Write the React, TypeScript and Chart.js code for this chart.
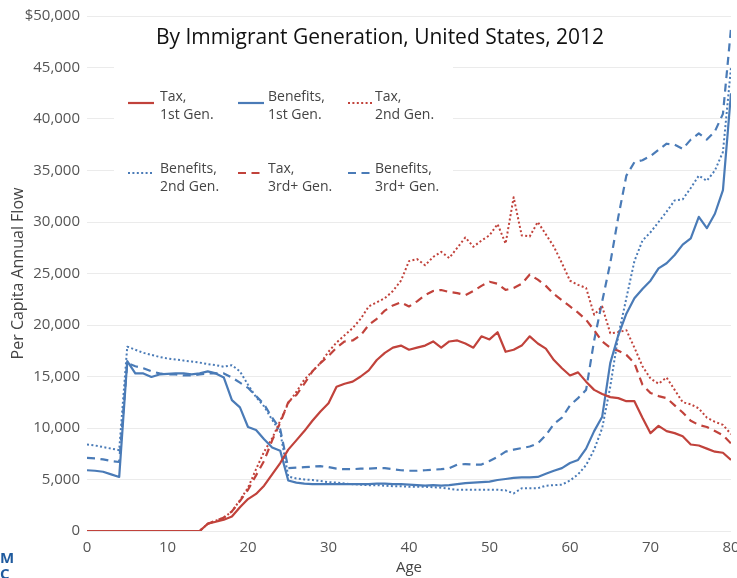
import React, { useEffect, useRef } from "react";
import { Chart, registerables } from "chart.js";

Chart.register(...registerables);

const ages = [
  0, 1, 2, 3, 4, 5, 6, 7, 8, 9, 10, 11, 12, 13, 14, 15, 16, 17, 18, 19, 20,
  21, 22, 23, 24, 25, 26, 27, 28, 29, 30, 31, 32, 33, 34, 35, 36, 37, 38, 39, 40,
  41, 42, 43, 44, 45, 46, 47, 48, 49, 50, 51, 52, 53, 54, 55, 56, 57, 58, 59, 60,
  61, 62, 63, 64, 65, 66, 67, 68, 69, 70, 71, 72, 73, 74, 75, 76, 77, 78, 79, 80,
];

const tax1st = [
  0, 0, 0, 0, 0, 0, 0, 0, 0, 0, 0, 0, 0, 0, 0, 700, 900, 1100, 1400, 2300, 3100,
  3600, 4400, 5500, 6600, 7900, 8800, 9700, 10700, 11600, 12400,
  14000, 14300, 14500, 15000, 15600, 16600, 17300, 17800, 18000, 17600,
  17800, 18000, 18400, 17800, 18400, 18500, 18200, 17800, 18900, 18600,
  19300, 17400, 17600, 18000, 18900, 18200, 17700, 16600, 15800, 15100,
  15400, 14500, 13700, 13300, 13000, 12900, 12600, 12600, 11000, 9500,
  10200, 9700, 9500, 9200, 8400, 8300, 8000, 7700, 7600, 6900,
];

const benefits1st = [
  5900, 5850, 5750, 5500, 5250, 16500, 15300, 15300, 14950, 15200, 15250,
  15300, 15300, 15200, 15300, 15500, 15300, 14900, 12700, 12000, 10100,
  9800, 8900, 8100, 7800, 4900, 4700, 4600, 4550, 4550, 4550,
  4550, 4550, 4550, 4550, 4550, 4600, 4600, 4550, 4550, 4500,
  4450, 4400, 4450, 4400, 4450, 4550, 4650, 4700, 4750, 4800,
  4950, 5050, 5150, 5200, 5200, 5250, 5550, 5850, 6100, 6600,
  6900, 8000, 9700, 11100, 16300, 19000, 21100, 22600, 23500, 24300,
  25500, 26000, 26800, 27800, 28400, 30500, 29400, 30800, 33100, 42500,
];

const tax2nd = [
  0, 0, 0, 0, 0, 0, 0, 0, 0, 0, 0, 0, 0, 0, 0, 700, 1000, 1300, 1900, 3000, 4200,
  6000, 7700, 9000, 10700, 12400, 13500, 14700, 15500, 16300, 17400,
  18300, 19000, 19700, 20600, 21800, 22200, 22600, 23300, 24300, 26200,
  26400, 25800, 26600, 27100, 26500, 27500, 28500, 27600, 28200, 28700,
  29800, 27900, 32400, 28700, 28600, 30000, 28800, 27600, 26000, 24300,
  23900, 23600, 21000, 21800, 19200, 19300, 19500, 17800, 16000, 14800,
  14300, 14900, 13700, 12500, 12300, 11900, 11000, 10600, 10300, 9400,
];

const benefits2nd = [
  8400, 8300, 8150, 8000, 7850, 17900, 17600, 17300, 17100, 16900, 16750,
  16650, 16550, 16450, 16350, 16200, 16100, 15950, 16100, 15500, 14200,
  13000, 12100, 10800, 9600, 5300, 5100, 5000, 4950, 4850, 4750,
  4700, 4600, 4550, 4500, 4450, 4450, 4400, 4350, 4350, 4300,
  4300, 4300, 4250, 4200, 4100, 4000, 4000, 4000, 4000, 4000,
  4000, 3950, 3650, 4150, 4150, 4150, 4400, 4450, 4500, 4900,
  5500, 6400, 7900, 10000, 14000, 19000, 22600, 26200, 28200, 29000,
  30000, 31000, 32100, 32200, 33300, 34500, 34000, 35000, 36800, 45000,
];

const tax3rd = [
  0, 0, 0, 0, 0, 0, 0, 0, 0, 0, 0, 0, 0, 0, 0, 700, 1000, 1300, 1900, 2900, 4000,
  5400, 6800, 8800, 10500, 12500, 13200, 14300, 15500, 16300, 17000,
  17800, 18400, 18500, 19000, 20000, 20600, 21400, 21900, 22200, 21800,
  22300, 22900, 23300, 23400, 23200, 23100, 22900, 23300, 23800, 24200,
  24000, 23400, 23600, 24000, 24900, 24400, 23800, 23000, 22400, 21800,
  21200, 20500, 19500, 18400, 17800, 17500, 17100, 16300, 14200, 13400,
  13100, 12900, 12200, 11500, 10700, 10300, 10100, 9700, 9300, 8500,
];

const benefits3rd = [
  7100, 7050, 6950, 6800, 6700, 16300, 16000, 15800, 15500, 15300, 15200,
  15200, 15100, 15100, 15200, 15300, 15300, 15300, 14900, 14400, 13900,
  13100, 12300, 11000, 9900, 6100, 6150, 6200, 6250, 6300, 6200,
  6050, 6000, 6000, 6050, 6050, 6100, 6100, 6000, 5900, 5850,
  5850, 5900, 5950, 6000, 6100, 6450, 6500, 6450, 6450, 6800,
  7200, 7700, 7900, 8050, 8200, 8500, 9300, 10400, 11000, 12200,
  12900, 13700, 18500, 22300, 26000, 30500, 34500, 35800, 36000, 36400,
  37000, 37600, 37500, 37100, 38000, 38600, 38000, 38800, 40500, 48800,
];

const chartTitle = "By Immigrant Generation, United States, 2012";
const xTitle = "Age";
const yTitle = "Per Capita Annual Flow";

const RED = "#c1423b";
const BLUE = "#4a7bb7";
const DOT = [2, 2.4];
const DASH = [8, 5.5];

type Series = {
  label1: string;
  label2: string;
  values: number[];
  color: string;
  dash: number[];
  width: number;
};

const series: Series[] = [
  { label1: "Tax,", label2: "1st Gen.", values: tax1st, color: RED, dash: [], width: 2.2 },
  { label1: "Benefits,", label2: "1st Gen.", values: benefits1st, color: BLUE, dash: [], width: 2.2 },
  { label1: "Tax,", label2: "2nd Gen.", values: tax2nd, color: RED, dash: DOT, width: 2 },
  { label1: "Benefits,", label2: "2nd Gen.", values: benefits2nd, color: BLUE, dash: DOT, width: 2 },
  { label1: "Tax,", label2: "3rd+ Gen.", values: tax3rd, color: RED, dash: DASH, width: 2.2 },
  { label1: "Benefits,", label2: "3rd+ Gen.", values: benefits3rd, color: BLUE, dash: DASH, width: 2.2 },
];

const FONT = '"Open Sans", "Noto Sans", sans-serif';

const overlayPlugin = {
  id: "overlay",
  beforeDatasetsDraw(chart: any) {
    const ctx = chart.ctx as CanvasRenderingContext2D;
    ctx.save();
    ctx.fillStyle = "#ffffff";
    ctx.fillRect(114, 56, 339, 148);
    const cols = [
      { sx: 128, tx: 160 },
      { sx: 238, tx: 268 },
      { sx: 348, tx: 375 },
    ];
    const rows = [
      { sy: 103, t1: 97, t2: 115 },
      { sy: 173, t1: 169, t2: 187 },
    ];
    series.forEach((s, i) => {
      const c = cols[i % 3];
      const r = rows[Math.floor(i / 3)];
      ctx.strokeStyle = s.color;
      ctx.lineWidth = s.width;
      ctx.setLineDash(s.dash);
      ctx.beginPath();
      ctx.moveTo(c.sx, r.sy);
      ctx.lineTo(c.sx + 26, r.sy);
      ctx.stroke();
      ctx.setLineDash([]);
      ctx.fillStyle = "#444444";
      ctx.font = `14px ${FONT}`;
      ctx.textAlign = "left";
      ctx.textBaseline = "middle";
      ctx.fillText(s.label1, c.tx, r.t1);
      ctx.fillText(s.label2, c.tx, r.t2);
    });
    ctx.restore();
  },
  afterDraw(chart: any) {
    const ctx = chart.ctx as CanvasRenderingContext2D;
    ctx.save();
    ctx.fillStyle = "#111111";
    ctx.font = `21px ${FONT}`;
    ctx.textAlign = "center";
    ctx.textBaseline = "middle";
    ctx.fillText(chartTitle, 380, 38);
    ctx.restore();
  },
};

export default function App() {
  const canvasRef = useRef<HTMLCanvasElement | null>(null);

  useEffect(() => {
    if (!canvasRef.current) return;
    const chart = new Chart(canvasRef.current, {
      type: "line",
      data: {
        datasets: series.map((s) => ({
          label: `${s.label1} ${s.label2}`,
          data: ages.map((a, i) => ({ x: a, y: s.values[i] })),
          borderColor: s.color,
          backgroundColor: s.color,
          borderWidth: s.width,
          borderDash: s.dash,
          borderCapStyle: "butt" as const,
          borderJoinStyle: "round" as const,
          pointRadius: 0,
          pointHoverRadius: 0,
          tension: 0,
          fill: false,
        })),
      },
      options: {
        responsive: false,
        animation: false,
        devicePixelRatio: 1,
        layout: { padding: { top: 16, right: 29, left: 0, bottom: 0 } },
        plugins: {
          legend: { display: false },
          tooltip: { enabled: false },
          title: { display: false },
        },
        scales: {
          x: {
            type: "linear",
            min: 0,
            max: 80,
            grid: { display: false },
            border: { display: false },
            ticks: {
              stepSize: 10,
              color: "#555555",
              font: { family: FONT, size: 15 },
              padding: 0,
              maxRotation: 0,
            },
            title: {
              display: true,
              text: xTitle,
              color: "#444444",
              font: { family: FONT, size: 15 },
              padding: { top: 0, bottom: 1 },
            },
            afterFit: (scale: any) => {
              scale.height = 47;
            },
          },
          y: {
            type: "linear",
            min: 0,
            max: 50000,
            grid: { color: "#ebebeb", lineWidth: 1, drawTicks: false },
            border: { display: false },
            ticks: {
              stepSize: 5000,
              color: "#555555",
              font: { family: FONT, size: 15 },
              padding: 7,
              callback: (v: any) =>
                v === 50000 ? "$50,000" : Number(v).toLocaleString("en-US"),
            },
            title: {
              display: true,
              text: yTitle,
              color: "#444444",
              font: { family: FONT, size: 16 },
              padding: { top: 9, bottom: 0 },
            },
            afterFit: (scale: any) => {
              scale.width = 87;
            },
          },
        },
      },
      plugins: [overlayPlugin],
    });
    if ((document as any).fonts && (document as any).fonts.load) {
      (document as any).fonts
        .load(`15px ${FONT}`)
        .then(() => chart.update())
        .catch(() => {});
    }
    return () => chart.destroy();
  }, []);

  return (
    <div
      style={{
        position: "fixed",
        left: 0,
        top: 0,
        width: 737,
        height: 578,
        overflow: "hidden",
        background: "#ffffff",
      }}
    >
      <canvas ref={canvasRef} width={760} height={578} style={{ display: "block" }} />
      <div
        style={{
          position: "absolute",
          left: 0,
          top: 549,
          fontFamily: FONT,
          fontWeight: 700,
          fontSize: 15,
          lineHeight: "16px",
          color: "#1f5a9e",
        }}
      >
        M
        <br />C
      </div>
    </div>
  );
}
